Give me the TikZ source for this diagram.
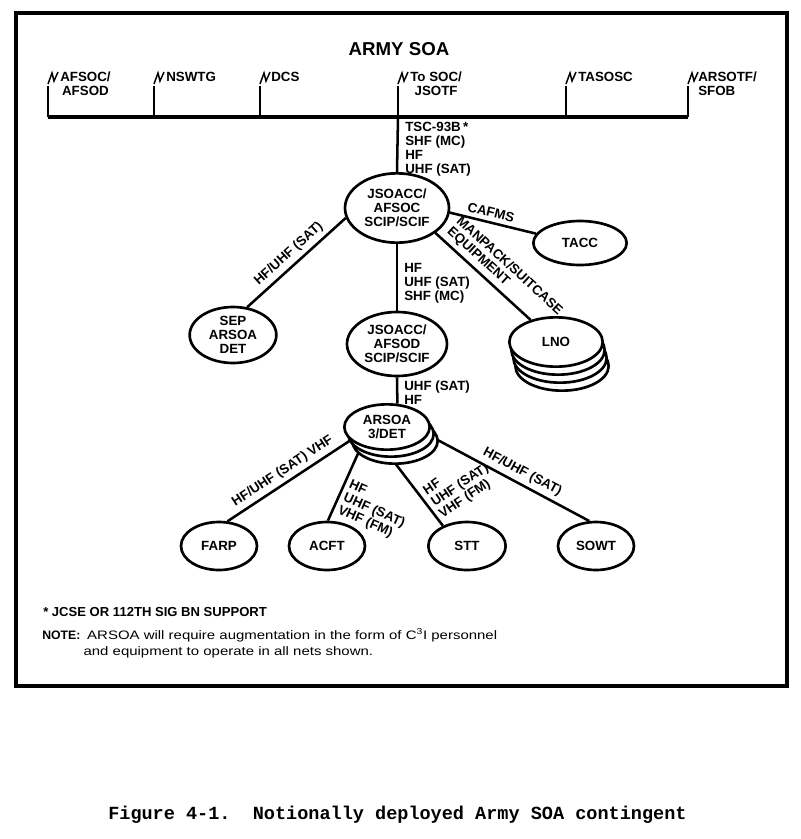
\documentclass[tikz,border=0pt]{standalone}
\usepackage{fontspec}
\setmainfont{Liberation Sans}
\newfontfamily\notefont[FakeStretch=1.22]{Liberation Sans}
\newfontfamily\capfont{Liberation Mono}
\usetikzlibrary{shapes.geometric,backgrounds}

\begin{document}
\begin{tikzpicture}[x=0.75pt,y=-0.75pt,
        lbl/.style={font=\bfseries\fontsize{10}{10.5}\selectfont, inner sep=0pt},
        unit/.style={ellipse, draw, line width=2pt, fill=white, lbl, align=center},
        link/.style={line width=1.9pt},
        tag/.style={lbl, align=left, anchor=north west}]
        \useasboundingbox (0,0) rectangle (800,839);
        \draw[line width=2.6pt] (16,13) rectangle (787,686);
        \node[font=\bfseries\fontsize{14}{16}\selectfont] (title) at (399,49) {ARMY SOA};

        % the bus and its taps
        \coordinate (busw) at (48,117);
        \coordinate (buse) at (688,117);
        \coordinate (bustap) at (398,117);
        \draw[line width=2.4pt] (busw) -- (buse);
        \foreach \x in {48,154,260,398,566,688} {
            \draw[line width=1.7pt] (\x,117) -- (\x,86);
            \draw[line width=1.1pt] (\x,84) -- ++(4,-11) -- ++(2,8) -- ++(4,-9);
        }
        \node[tag, align=center] (afsoc) at (60,72) {AFSOC/\\AFSOD};
        \node[tag] (nswtg) at (166,72) {NSWTG};
        \node[tag] (dcs) at (271,72) {DCS};
        \node[tag, align=center] (soc) at (410,72) {To SOC/\\JSOTF};
        \node[tag] (tasosc) at (578,72) {TASOSC};
        \node[tag] (arsotf) at (698,72) {ARSOTF/\\SFOB};

        \node[unit, minimum width=78pt, minimum height=52pt] (afsocc) at (397,208) {JSOACC/\\AFSOC\\SCIP/SCIF};
        \node[unit, minimum width=70pt, minimum height=33pt] (tacc) at (580,243) {TACC};
        \node[unit, minimum width=65pt, minimum height=42pt] (sep) at (233,335) {SEP\\ARSOA\\DET};
        \node[unit, minimum width=75pt, minimum height=48pt] (afsod) at (397,344) {JSOACC/\\AFSOD\\SCIP/SCIF};
        \foreach \i in {3,2,1}
            \node[unit, minimum width=70pt, minimum height=37pt] (lno\i) at (556+2*\i,342+8*\i) {};
        \node[unit, minimum width=70pt, minimum height=37pt] (lno) at (556,342) {LNO};
        \foreach \i in {2,1}
            \node[unit, minimum width=64pt, minimum height=34pt] (arsoa\i) at (387+4*\i,427+7*\i) {};
        \node[unit, minimum width=64pt, minimum height=34pt] (arsoa) at (387,427) {ARSOA\\3/DET};
        \node[unit, minimum width=57pt, minimum height=36pt] (farp) at (219,546) {FARP};
        \node[unit, minimum width=57pt, minimum height=36pt] (acft) at (327,546) {ACFT};
        \node[unit, minimum width=58pt, minimum height=36pt] (stt) at (467,546) {STT};
        \node[unit, minimum width=57pt, minimum height=36pt] (sowt) at (596,546) {SOWT};

        \begin{scope}[on background layer]
        \draw[link] (bustap) -- (afsocc.north);
        \draw[link] (afsocc.191) -- (sep.63) node[lbl, midway, sloped, above=3pt] {HF/UHF (SAT)};
        \draw[link] (afsocc.-5) -- (tacc.168) node[lbl, pos=0.45, sloped, above=3pt] {CAFMS};
        \draw[link] (afsocc.-33) -- (lno.139) node[lbl, pos=0.02, sloped, anchor=south west, align=left, inner sep=3pt] {MANPACK/SUITCASE\\EQUIPMENT};
        \draw[link] (afsocc.south) -- (afsod.north);
        \draw[link] (afsod.south) -- (arsoa.66);
        \draw[link] (arsoa.200) -- (farp.71) node[lbl, midway, sloped, above=3pt] {HF/UHF (SAT) VHF};
        \draw[link] (arsoa.217) -- (acft.88) node[lbl, pos=0.66, anchor=west, rotate=-24, align=left, inner sep=3pt] {HF\\UHF (SAT)\\VHF (FM)};
        \draw[link] (arsoa.267) -- (stt.140) node[lbl, pos=0.75, anchor=west, rotate=34, align=left, inner sep=3pt] {HF\\UHF (SAT)\\VHF (FM)};
        \draw[link] (arsoa.-11) -- (sowt.105) node[lbl, pos=0.55, sloped, above=3pt] {HF/UHF (SAT)};
        \end{scope}
        \node[tag] (sigtop) at (405,122) {TSC-93B\,*\\SHF (MC)\\HF\\UHF (SAT)};
        \node[tag] (sigmid) at (404,263) {HF\\UHF (SAT)\\SHF (MC)};
        \node[tag] (siglow) at (404,381) {UHF (SAT)\\HF};

        \node[font=\bfseries\fontsize{9.8}{11}\selectfont, anchor=west, inner sep=0pt] (foot) at (43,612) {* JCSE OR 112TH SIG BN SUPPORT};
        \node[anchor=north west, inner sep=0pt, align=left, font=\fontsize{9.2}{12}\selectfont] (note) at (42,628)
            {\textbf{NOTE:}\ \ \notefont ARSOA will require augmentation in the form of C\textsuperscript{3}I personnel\\
             \hspace*{31pt}\notefont and equipment to operate in all nets shown.};
        \node[anchor=west, inner sep=0pt, font=\capfont\bfseries\fontsize{13.9}{16}\selectfont] (caption) at (108,815)
            {Figure 4-1.~~Notionally deployed Army SOA contingent};
    \end{tikzpicture}
\end{document}
